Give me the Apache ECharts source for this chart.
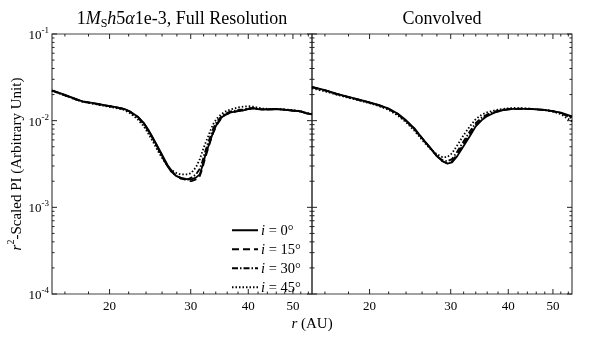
<!DOCTYPE html>
<html>
<head>
<meta charset="utf-8">
<script src="https://cdn.jsdelivr.net/npm/echarts@6/dist/echarts.min.js"></script>
<style>
html, body { margin: 0; padding: 0; background: #fff; }
#chart { width: 598px; height: 338px; }
</style>
</head>
<body>
<div id="chart"></div>
<script>
// radius (AU) samples, full resolution panel
const rFull = [15, 16, 17, 17.5, 18.5, 19.5, 20.5, 21.5, 22.2, 23, 23.7, 24.3, 24.9, 25.5, 26.1, 26.7, 27.2, 27.9, 28.5, 29.1, 29.6, 30.1, 30.8, 31.4, 31.8, 32.2, 32.7, 33.1, 33.6, 34.2, 34.9, 35.6, 36.5, 37.8, 39, 40, 41, 42, 43, 44, 46, 48, 50, 52, 53.5, 55];
const full0 = [0.0224, 0.0198, 0.0176, 0.0166, 0.0159, 0.0151, 0.0144, 0.0137, 0.0127, 0.0112, 0.0095, 0.0078, 0.0062, 0.0049, 0.0039, 0.0031, 0.0027, 0.0023, 0.0022, 0.00215, 0.0021, 0.0021, 0.0022, 0.0024, 0.0030, 0.0038, 0.0049, 0.0059, 0.0075, 0.0092, 0.0107, 0.0117, 0.0124, 0.0129, 0.0131, 0.0137, 0.0139, 0.0136, 0.0134, 0.0135, 0.0136, 0.0133, 0.0131, 0.0128, 0.0121, 0.0119];
const full15 = [0.0223, 0.0197, 0.0174, 0.0167, 0.0158, 0.0150, 0.0144, 0.0136, 0.0126, 0.0111, 0.0094, 0.0077, 0.0061, 0.0048, 0.0038, 0.0030, 0.0026, 0.0023, 0.00215, 0.0021, 0.00205, 0.0020, 0.0021, 0.0023, 0.0028, 0.0036, 0.0047, 0.0058, 0.0073, 0.0090, 0.0105, 0.0116, 0.0123, 0.0128, 0.0132, 0.0136, 0.0138, 0.0136, 0.0135, 0.0134, 0.0136, 0.0134, 0.0130, 0.0127, 0.0122, 0.0118];
const full30 = [0.0222, 0.0196, 0.0175, 0.0166, 0.0157, 0.0150, 0.0143, 0.0136, 0.0125, 0.0109, 0.0092, 0.0075, 0.0060, 0.0047, 0.0037, 0.0030, 0.0026, 0.0023, 0.0022, 0.0021, 0.0021, 0.0022, 0.0024, 0.0028, 0.0034, 0.0043, 0.0055, 0.0066, 0.0082, 0.0098, 0.0111, 0.0120, 0.0127, 0.0132, 0.0135, 0.0139, 0.0140, 0.0137, 0.0135, 0.0136, 0.0137, 0.0134, 0.0131, 0.0128, 0.0122, 0.0118];
const full45 = [0.0221, 0.0195, 0.0173, 0.0165, 0.0156, 0.0148, 0.0141, 0.0133, 0.0121, 0.0104, 0.0087, 0.0070, 0.0056, 0.0044, 0.0036, 0.0030, 0.0027, 0.0025, 0.0024, 0.0024, 0.0024, 0.0025, 0.0029, 0.0036, 0.0044, 0.0053, 0.0065, 0.0077, 0.0092, 0.0106, 0.0118, 0.0127, 0.0134, 0.0141, 0.0145, 0.0147, 0.0145, 0.0141, 0.0138, 0.0137, 0.0137, 0.0135, 0.0132, 0.0129, 0.0123, 0.0120];

// convolved panel
const rConv = [15, 16, 17, 18, 19, 20, 21, 22, 23, 24, 25, 26, 27, 28, 28.8, 29.5, 30.2, 31, 32, 33, 34, 35, 36, 37.5, 39, 41, 43, 45, 48, 50, 52, 55];
const conv0 = [0.0245, 0.0225, 0.0204, 0.0188, 0.0175, 0.0163, 0.0151, 0.0138, 0.0121, 0.0101, 0.0082, 0.0063, 0.0050, 0.0039, 0.0034, 0.0032, 0.0033, 0.0039, 0.0051, 0.0066, 0.0086, 0.0101, 0.0113, 0.0125, 0.0132, 0.0137, 0.0137, 0.0136, 0.0133, 0.0129, 0.0124, 0.0112];
const conv15 = [0.0244, 0.0224, 0.0203, 0.0187, 0.0174, 0.0162, 0.0150, 0.0137, 0.0120, 0.0100, 0.0081, 0.0063, 0.0049, 0.0039, 0.0034, 0.0032, 0.0034, 0.0041, 0.0054, 0.0070, 0.0089, 0.0104, 0.0115, 0.0126, 0.0133, 0.0137, 0.0137, 0.0136, 0.0133, 0.0129, 0.0123, 0.0110];
const conv30 = [0.0243, 0.0223, 0.0202, 0.0186, 0.0173, 0.0161, 0.0149, 0.0136, 0.0119, 0.0099, 0.0080, 0.0062, 0.0049, 0.0039, 0.0035, 0.0034, 0.0036, 0.0044, 0.0058, 0.0075, 0.0094, 0.0108, 0.0118, 0.0128, 0.0134, 0.0138, 0.0138, 0.0137, 0.0133, 0.0128, 0.0122, 0.0106];
const conv45 = [0.0236, 0.0218, 0.0199, 0.0184, 0.0171, 0.0159, 0.0147, 0.0133, 0.0115, 0.0096, 0.0077, 0.0060, 0.0048, 0.0041, 0.0038, 0.0038, 0.0042, 0.0052, 0.0068, 0.0086, 0.0104, 0.0117, 0.0125, 0.0132, 0.0137, 0.0140, 0.0139, 0.0137, 0.0132, 0.0127, 0.0119, 0.0098];

const incl = ['0', '15', '30', '45'];
const xLabels = [20, 30, 40, 50];
const xMinor = [16, 18, 22, 24, 26, 28, 32, 34, 36, 38, 42, 44, 46, 48, 52, 54];
const yDecades = [1e-4, 1e-3, 1e-2];
const yMult = [2, 3, 4, 5, 6, 7, 8, 9];

const FONT = 'Liberation Serif';
const dashes = ['solid', [7, 4], [6, 2, 1.5, 2], [1.5, 2]];
const gridLeft = [52, 312];
const gridTop = 34, gridH = 260, gridW = 260;

let chart = echarts.init(document.getElementById('chart'));

function mkSeries(name, rs, vs, gi, k) {
  return {
    name: name,
    type: 'line',
    xAxisIndex: gi,
    yAxisIndex: gi,
    symbol: 'none',
    smooth: false,
    lineStyle: { color: '#000', width: 1.8, type: dashes[k] },
    itemStyle: { color: '#000' },
    data: rs.map((r, j) => [r, vs[j]])
  };
}

const fullSets = [full0, full15, full30, full45];
const convSets = [conv0, conv15, conv30, conv45];
let series = [];
incl.forEach((n, k) => {
  series.push(mkSeries(n, rFull, fullSets[k], 0, k));
  series.push(mkSeries(n, rConv, convSets[k], 1, k));
});

function richSet(base, sup) {
  return {
    b: { fontFamily: FONT, fontSize: base, color: '#000', lineHeight: base + 3, verticalAlign: 'bottom' },
    sup: { fontFamily: FONT, fontSize: sup, color: '#000', lineHeight: sup, verticalAlign: 'top' },
    i: { fontFamily: FONT, fontSize: base, fontStyle: 'italic', color: '#000', lineHeight: base + 3, verticalAlign: 'bottom' }
  };
}
const tickRich = richSet(13, 9);
const nameRich = richSet(15, 10);

chart.setOption({
  animation: false,
  backgroundColor: '#fff',
  grid: [0, 1].map(gi => ({
    left: gridLeft[gi], top: gridTop, width: gridW, height: gridH,
    show: true, borderColor: '#444', borderWidth: 1.2, backgroundColor: 'transparent'
  })),
  xAxis: [0, 1].map(gi => ({
    type: 'log', gridIndex: gi, min: 15, max: 55, logBase: 10,
    axisLine: { show: false }, axisTick: { show: false },
    axisLabel: { show: false }, splitLine: { show: false }
  })),
  yAxis: [0, 1].map(gi => ({
    type: 'log', gridIndex: gi, min: 1e-4, max: 1e-1, logBase: 10,
    axisLine: { show: false }, axisTick: { show: false }, splitLine: { show: false },
    axisLabel: {
      show: gi === 0, margin: 3,
      formatter: v => '{b|10}{sup|' + Math.round(Math.log10(v)) + '}',
      rich: tickRich
    },
    name: gi === 0 ? '{i|r}{sup|2}{b|-Scaled PI (Arbitrary Unit)}' : '',
    nameLocation: 'middle', nameGap: 27,
    nameTextStyle: { rich: nameRich }
  })),
  legend: {
    data: incl, orient: 'vertical', left: 226, top: 219,
    itemWidth: 26, itemHeight: 12, itemGap: 4,
    itemStyle: { opacity: 0 },
    formatter: n => '{i|i}{b| = ' + n + '°}',
    textStyle: { rich: richSet(14.5, 10), padding: [0, 0, 0, -2] }
  },
  series: series
});

// ticks, tick labels and titles placed through the axes' own scales
function seg(x1, y1, x2, y2) {
  return { type: 'line', silent: true, shape: { x1: x1, y1: y1, x2: x2, y2: y2 },
    style: { stroke: '#222', lineWidth: 1 } };
}
function txt(text, x, y, size, rich, vAlign) {
  return { type: 'text', silent: true, x: x, y: y,
    style: { text: text, fill: '#000', fontFamily: FONT, fontSize: size,
      align: 'center', verticalAlign: vAlign || 'middle', rich: rich } };
}

let els = [];
const bottom = gridTop + gridH;
[0, 1].forEach(gi => {
  const left = gridLeft[gi], right = left + gridW;
  xLabels.concat(xMinor).forEach(r => {
    const x = chart.convertToPixel({ xAxisIndex: gi }, r);
    const len = xLabels.indexOf(r) >= 0 ? 5 : 2.5;
    els.push(seg(x, bottom, x, bottom - len));
    els.push(seg(x, gridTop, x, gridTop + len));
  });
  xLabels.forEach(r => {
    const x = chart.convertToPixel({ xAxisIndex: gi }, r);
    els.push(txt(String(r), x, bottom + 13, 13));
  });
  yDecades.concat([1e-1]).forEach(v => {
    const y = chart.convertToPixel({ yAxisIndex: gi }, v);
    els.push(seg(left, y, left + 5, y));
    els.push(seg(right, y, right - 5, y));
  });
  yDecades.forEach(d => {
    yMult.forEach(m => {
      const y = chart.convertToPixel({ yAxisIndex: gi }, d * m);
      els.push(seg(left, y, left + 2.5, y));
      els.push(seg(right, y, right - 2.5, y));
    });
  });
});

const titleRich = {
  n: { fontFamily: FONT, fontSize: 18, color: '#000', lineHeight: 22, verticalAlign: 'middle' },
  i: { fontFamily: FONT, fontSize: 18, fontStyle: 'italic', color: '#000', lineHeight: 22, verticalAlign: 'middle' },
  sub: { fontFamily: FONT, fontSize: 12, color: '#000', lineHeight: 12, verticalAlign: 'bottom' }
};
els.push(txt('{n|1}{i|M}{sub|S}{i|h}{n|5}{i|α}{n|1e-3, Full Resolution}', 182, 19, 18, titleRich));
els.push(txt('{n|Convolved}', 442, 19, 18, titleRich));
els.push(txt('{i|r}{b| (AU)}', 312, 323, 15, nameRich));

chart.setOption({ graphic: { elements: els } });
</script>
</body>
</html>
